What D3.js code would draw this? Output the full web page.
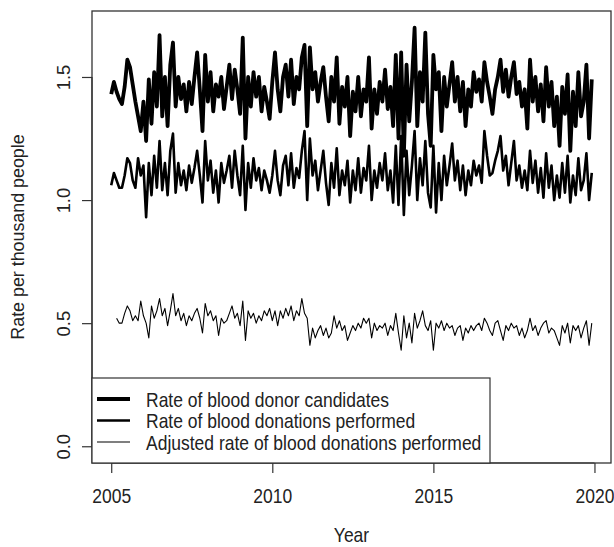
<!DOCTYPE html>
<html>
<head>
<meta charset="utf-8">
<script src="https://d3js.org/d3.v7.min.js"></script>
<style>
  body { margin: 0; background: #fff; }
  text { font-family: "Liberation Sans", Arial, sans-serif; fill: #222; }
</style>
</head>
<body>
<div id="vis"></div>
<script>
var width = 614,
  height = 547;

// plot region (R base graphics style)
var margin = { top: 11, right: 3, bottom: 84, left: 92 };
var textStretch = 1.12; // glyphs in the picture are a bit taller than wide

// monthly series, Jan 2005 - Dec 2019
var startYear = 2005;

var candidates = [
  1.43,1.48,1.44,1.41,1.39,1.46,1.57,1.54,1.47,1.40,1.34,1.28,
  1.40,1.24,1.49,1.31,1.52,1.38,1.67,1.34,1.50,1.30,1.55,1.64,
  1.38,1.50,1.41,1.47,1.36,1.48,1.39,1.50,1.60,1.45,1.28,1.59,
  1.40,1.52,1.36,1.47,1.42,1.50,1.37,1.46,1.55,1.41,1.53,1.45,
  1.35,1.66,1.25,1.50,1.38,1.52,1.42,1.50,1.36,1.46,1.40,1.33,
  1.48,1.60,1.45,1.36,1.50,1.55,1.42,1.57,1.39,1.50,1.45,1.58,
  1.63,1.30,1.62,1.45,1.52,1.40,1.48,1.54,1.42,1.32,1.50,1.40,
  1.58,1.31,1.46,1.38,1.50,1.26,1.44,1.36,1.50,1.34,1.45,1.40,
  1.58,1.29,1.45,1.35,1.48,1.40,1.53,1.37,1.46,1.30,1.59,1.25,
  1.60,1.18,1.55,1.32,1.48,1.70,1.30,1.52,1.40,1.68,1.35,1.22,
  1.59,1.45,1.52,1.28,1.50,1.38,1.47,1.56,1.40,1.50,1.36,1.48,
  1.30,1.45,1.38,1.52,1.44,1.49,1.40,1.56,1.48,1.42,1.35,1.45,
  1.50,1.57,1.44,1.53,1.42,1.50,1.56,1.43,1.48,1.38,1.45,1.29,
  1.57,1.40,1.50,1.36,1.47,1.32,1.54,1.38,1.48,1.30,1.42,1.22,
  1.46,1.35,1.51,1.20,1.44,1.30,1.52,1.34,1.40,1.55,1.25,1.49
];

var donations = [
  1.06,1.11,1.08,1.05,1.05,1.10,1.17,1.15,1.08,1.05,1.17,1.10,
  1.14,0.93,1.15,1.02,1.18,1.05,1.24,1.04,1.15,1.02,1.20,1.27,
  1.03,1.15,1.06,1.12,1.04,1.14,1.07,1.13,1.20,1.10,0.99,1.24,
  1.08,1.16,1.03,1.12,0.99,1.15,1.07,1.12,1.18,1.05,1.20,1.10,
  1.02,1.22,0.96,1.15,1.05,1.17,1.08,1.13,1.04,1.12,1.08,1.03,
  1.10,1.20,1.08,1.02,1.14,1.18,1.06,1.19,1.05,1.13,1.09,1.20,
  1.28,1.00,1.25,1.10,1.16,1.04,1.12,1.20,1.07,0.98,1.15,1.05,
  1.21,1.02,1.12,1.06,1.16,0.99,1.12,1.04,1.17,1.03,1.13,1.08,
  1.22,1.00,1.12,1.05,1.15,1.08,1.19,1.04,1.12,0.99,1.22,0.98,
  1.26,0.94,1.20,1.02,1.14,1.28,1.00,1.17,1.06,1.24,1.03,0.97,
  1.22,0.95,1.15,1.00,1.18,1.06,1.14,1.23,1.08,1.16,1.04,1.14,
  1.02,1.12,1.06,1.16,1.10,1.14,1.07,1.28,1.18,1.10,1.11,1.16,
  1.20,1.26,1.12,1.18,1.06,1.15,1.24,1.08,1.14,1.05,1.12,1.04,
  1.20,1.07,1.16,1.03,1.13,1.01,1.19,1.05,1.14,1.00,1.10,1.01,
  1.15,1.03,1.18,0.99,1.10,1.02,1.17,1.04,1.08,1.19,1.00,1.11
];

// adjusted series starts in March 2005
var adjustedStart = 2;
var adjusted = [
  0.52,0.50,0.50,0.54,0.57,0.55,0.51,0.53,0.51,0.59,
  0.53,0.50,0.44,0.57,0.52,0.55,0.60,0.53,0.56,0.49,0.55,0.62,
  0.53,0.56,0.51,0.54,0.49,0.53,0.51,0.54,0.56,0.52,0.46,0.58,
  0.53,0.55,0.51,0.53,0.45,0.52,0.50,0.51,0.54,0.57,0.52,0.54,
  0.49,0.59,0.43,0.55,0.52,0.54,0.50,0.53,0.51,0.55,0.53,0.56,
  0.51,0.55,0.49,0.55,0.52,0.56,0.53,0.57,0.51,0.55,0.53,0.60,
  0.54,0.52,0.41,0.48,0.44,0.47,0.49,0.45,0.48,0.44,0.46,0.53,
  0.48,0.51,0.47,0.49,0.43,0.46,0.49,0.47,0.50,0.48,0.52,0.50,
  0.52,0.44,0.50,0.47,0.49,0.48,0.50,0.45,0.49,0.47,0.54,0.46,
  0.39,0.53,0.44,0.50,0.42,0.54,0.48,0.51,0.55,0.49,0.47,0.51,
  0.39,0.50,0.48,0.51,0.47,0.50,0.48,0.49,0.45,0.48,0.49,0.43,
  0.48,0.46,0.49,0.47,0.49,0.50,0.47,0.52,0.50,0.47,0.45,0.50,
  0.51,0.47,0.43,0.49,0.47,0.50,0.48,0.49,0.45,0.48,0.44,0.47,
  0.52,0.47,0.49,0.45,0.48,0.50,0.51,0.46,0.48,0.47,0.44,0.41,
  0.49,0.46,0.50,0.42,0.49,0.47,0.49,0.44,0.48,0.51,0.41,0.50
];

var xTicks = [2005, 2010, 2015, 2020];
var yTicks = [0.0, 0.5, 1.0, 1.5];
var yLimits = [0, 1.7];

var legendLabels = [
  "Rate of blood donor candidates",
  "Rate of blood donations performed",
  "Adjusted rate of blood donations performed"
];
var lineWidths = [3.8, 2.6, 1.1];

function toPoints(values, offset) {
  return values.map((v, i) => ({ t: startYear + (i + offset) / 12, v: v }));
}

var series = [
  toPoints(candidates, 0),
  toPoints(donations, 0),
  toPoints(adjusted, adjustedStart)
];

var svg = d3.select("#vis")
  .append("svg")
  .attr("width", width)
  .attr("height", height);

// R extends the data range by 4% on each side
var tMin = startYear, tMax = startYear + (candidates.length - 1) / 12;
var tPad = (tMax - tMin) * 0.04;
var yPad = (yLimits[1] - yLimits[0]) * 0.04;

var x = d3.scaleLinear()
  .domain([tMin - tPad, tMax + tPad])
  .range([margin.left, width - margin.right]);

var y = d3.scaleLinear()
  .domain([yLimits[0] - yPad, yLimits[1] + yPad])
  .range([height - margin.bottom, margin.top]);

var line = d3.line()
  .x(d => x(d.t))
  .y(d => y(d.v));

svg.append("g")
  .selectAll("path")
  .data(series)
  .enter()
  .append("path")
  .attr("d", line)
  .attr("fill", "none")
  .attr("stroke", "#000")
  .attr("stroke-width", (d, i) => lineWidths[i])
  .attr("stroke-linejoin", "round");

// helper: text at (tx, ty) stretched vertically a little
function stretchedText(g, tx, ty, str) {
  return g.append("text")
    .attr("transform", "translate(" + tx + "," + ty + ") scale(1," + textStretch + ")")
    .attr("font-size", "17.5px")
    .text(str);
}

// x axis
var xAxis = svg.append("g")
  .attr("transform", "translate(0," + (height - margin.bottom) + ")")
  .call(d3.axisBottom(x).tickValues(xTicks).tickSize(10).tickFormat(d3.format("d")));

// y axis
var yAxis = svg.append("g")
  .attr("transform", "translate(" + margin.left + ",0)")
  .call(d3.axisLeft(y).tickValues(yTicks).tickSize(10).tickFormat(d3.format(".1f")));

[xAxis, yAxis].forEach(a => {
  a.select(".domain").attr("stroke", "#333").attr("stroke-width", 1.2);
  a.selectAll(".tick line").attr("stroke", "#333").attr("stroke-width", 1.2);
  a.selectAll(".tick text")
    .attr("font-family", "Liberation Sans, Arial, sans-serif")
    .attr("font-size", "17.5px")
    .attr("fill", "#222");
});
xAxis.select(".domain").attr("d", "M" + x(xTicks[0]) + ",0H" + x(xTicks[3]));
yAxis.select(".domain").attr("d", "M0," + y(yTicks[0]) + "V" + y(yTicks[3]));

xAxis.selectAll(".tick text")
  .attr("y", null)
  .attr("dy", null)
  .attr("transform", "translate(0,40) scale(1," + textStretch + ")");

// rotate y tick labels like R (las = 0)
yAxis.selectAll(".tick text")
  .attr("x", null)
  .attr("dy", null)
  .attr("text-anchor", "middle")
  .attr("transform", "translate(-22,0) rotate(-90) scale(1.05,1.08)");

// plot box
svg.append("rect")
  .attr("x", margin.left)
  .attr("y", margin.top)
  .attr("width", width - margin.left - margin.right)
  .attr("height", height - margin.bottom - margin.top)
  .attr("fill", "none")
  .attr("stroke", "#333")
  .attr("stroke-width", 1.3);

// axis titles
stretchedText(svg, (margin.left + width - margin.right) / 2, 542, "Year")
  .attr("text-anchor", "middle");

svg.append("text")
  .attr("transform", "translate(24," + ((margin.top + height - margin.bottom) / 2) + ") rotate(-90) scale(1.02,1.08)")
  .attr("text-anchor", "middle")
  .attr("font-size", "17.5px")
  .text("Rate per thousand people");

// legend, bottom left
var legendTop = 378, legendRight = 490;
var legend = svg.append("g").attr("class", "legend");

legend.append("rect")
  .attr("x", margin.left)
  .attr("y", legendTop)
  .attr("width", legendRight - margin.left)
  .attr("height", height - margin.bottom - legendTop)
  .attr("fill", "#fff")
  .attr("stroke", "#333")
  .attr("stroke-width", 1.2);

legendLabels.forEach((label, i) => {
  var ly = 400 + i * 21.5;
  legend.append("line")
    .attr("x1", 97)
    .attr("x2", 130)
    .attr("y1", ly - 1)
    .attr("y2", ly - 1)
    .attr("stroke", "#000")
    .attr("stroke-width", lineWidths[i]);
  stretchedText(legend, 146, ly + 6.5, label);
});
</script>
</body>
</html>
